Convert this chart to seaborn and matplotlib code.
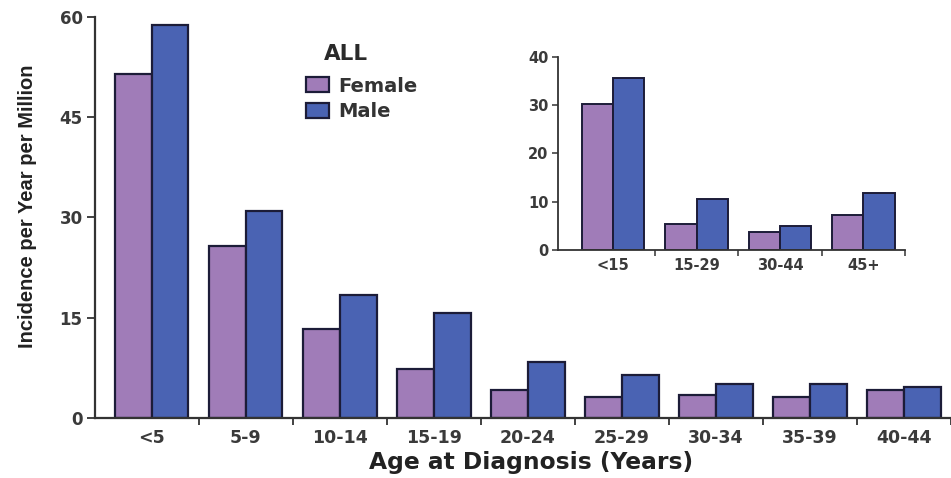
import matplotlib
matplotlib.use("Agg")
import matplotlib.pyplot as plt
import seaborn as sns
import pandas as pd
import numpy as np

# Incidence per year per million, by 5-year age band at diagnosis
age_groups = ["<5", "5-9", "10-14", "15-19", "20-24", "25-29", "30-34", "35-39", "40-44"]
female = [51.5, 25.7, 13.3, 7.3, 4.2, 3.1, 3.4, 3.1, 4.2]
male = [58.8, 31.0, 18.4, 15.7, 8.4, 6.4, 5.1, 5.1, 4.6]

# Inset: broader age bands
inset_groups = ["<15", "15-29", "30-44", "45+"]
inset_female = [30.2, 5.4, 3.7, 7.2]
inset_male = [35.6, 10.6, 5.0, 11.8]

sexes = ["Female", "Male"]
colors = {"Female": "#A07CB8", "Male": "#4A63B3"}
edge = "#1c1c38"
axis_col = "#333333"
tick_col = "#3a3a3a"

def long_table(groups, f, m):
    return pd.DataFrame({
        "age": groups * 2,
        "sex": ["Female"] * len(groups) + ["Male"] * len(groups),
        "rate": list(f) + list(m),
    })

main_df = long_table(age_groups, female, male)
inset_df = long_table(inset_groups, inset_female, inset_male)

sns.set_theme(style="white")
plt.rcParams["font.family"] = ["DejaVu Sans"]

fig = plt.figure(figsize=(9.51, 4.78), dpi=100)
fig.patch.set_facecolor("white")

# ---- main panel ----
ax = fig.add_axes([0.0999, 0.1255, 0.9001, 0.839])
sns.barplot(data=main_df, x="age", y="rate", hue="sex", hue_order=sexes,
            order=age_groups, palette=colors, edgecolor=edge, linewidth=1.6,
            width=0.78, saturation=1, ax=ax)
ax.set_xlim(-0.604, 8.46)
ax.set_ylim(0, 60)
ax.set_yticks([0, 15, 30, 45, 60])
ax.set_xticks(range(len(age_groups)))
ax.set_xticklabels(age_groups)
ax.set_xticks(np.arange(0.5, len(age_groups), 1.0), minor=True)
ax.tick_params(axis="x", which="major", length=0, pad=8,
               labelsize=12.5, labelcolor=tick_col)
ax.tick_params(axis="x", which="minor", bottom=True, length=5, width=1.3,
               color=axis_col, direction="out")
ax.tick_params(axis="y", left=True, length=6, width=1.3, color=axis_col,
               direction="out", pad=3, labelsize=12, labelcolor=tick_col)
for lab in ax.get_xticklabels() + ax.get_yticklabels():
    lab.set_fontweight("bold")
for side in ["top", "right"]:
    ax.spines[side].set_visible(False)
for side in ["left", "bottom"]:
    ax.spines[side].set_color(axis_col)
    ax.spines[side].set_linewidth(1.6)
ax.set_xlabel("Age at Diagnosis (Years)", fontsize=16.8, fontweight="bold",
              color="#222222")
ax.xaxis.set_label_coords(0.509, -0.083)
ax.set_ylabel("Incidence per Year per Million", fontsize=14.5,
              fontweight="bold", color="#222222",
              family=["Liberation Sans", "DejaVu Sans"])
ax.yaxis.set_label_coords(-0.068, 0.527)

handles, labels = ax.get_legend_handles_labels()
leg = ax.legend(handles, labels, loc="upper left",
                bbox_to_anchor=(0.2255, 0.895), frameon=False,
                fontsize=14, handlelength=1.23, handleheight=0.8,
                handletextpad=0.45, labelspacing=0.35)
for t in leg.get_texts():
    t.set_fontweight("bold")
    t.set_color("#333333")
fig.text(346 / 951, 1 - 54 / 478, "ALL", ha="center", va="center",
         fontsize=15.5, fontweight="bold", color="#2a2a2a")

# ---- inset panel ----
ins = fig.add_axes([0.5868, 0.477, 0.3649, 0.4038])
sns.barplot(data=inset_df, x="age", y="rate", hue="sex", hue_order=sexes,
            order=inset_groups, palette=colors, edgecolor=edge, linewidth=1.4,
            width=0.75, saturation=1, legend=False, ax=ins)
ins.set_facecolor("white")
ins.set_xlim(-0.66, 3.5)
ins.set_ylim(0, 40)
ins.set_yticks([0, 10, 20, 30, 40])
ins.set_xticks(range(len(inset_groups)))
ins.set_xticklabels(inset_groups)
ins.set_xticks(np.arange(0.5, len(inset_groups), 1.0), minor=True)
ins.tick_params(axis="x", which="major", length=0, pad=6,
                labelsize=10.5, labelcolor=tick_col)
ins.tick_params(axis="x", which="minor", bottom=True, length=4, width=1.1,
                color=axis_col, direction="out")
ins.tick_params(axis="y", left=True, length=4, width=1.1, color=axis_col,
                direction="out", pad=3, labelsize=10.5, labelcolor=tick_col)
for lab in ins.get_xticklabels() + ins.get_yticklabels():
    lab.set_fontweight("bold")
for side in ["top", "right"]:
    ins.spines[side].set_visible(False)
for side in ["left", "bottom"]:
    ins.spines[side].set_color(axis_col)
    ins.spines[side].set_linewidth(1.3)
ins.set_xlabel("")
ins.set_ylabel("")

fig.savefig("out.png", dpi=100, facecolor="white")
